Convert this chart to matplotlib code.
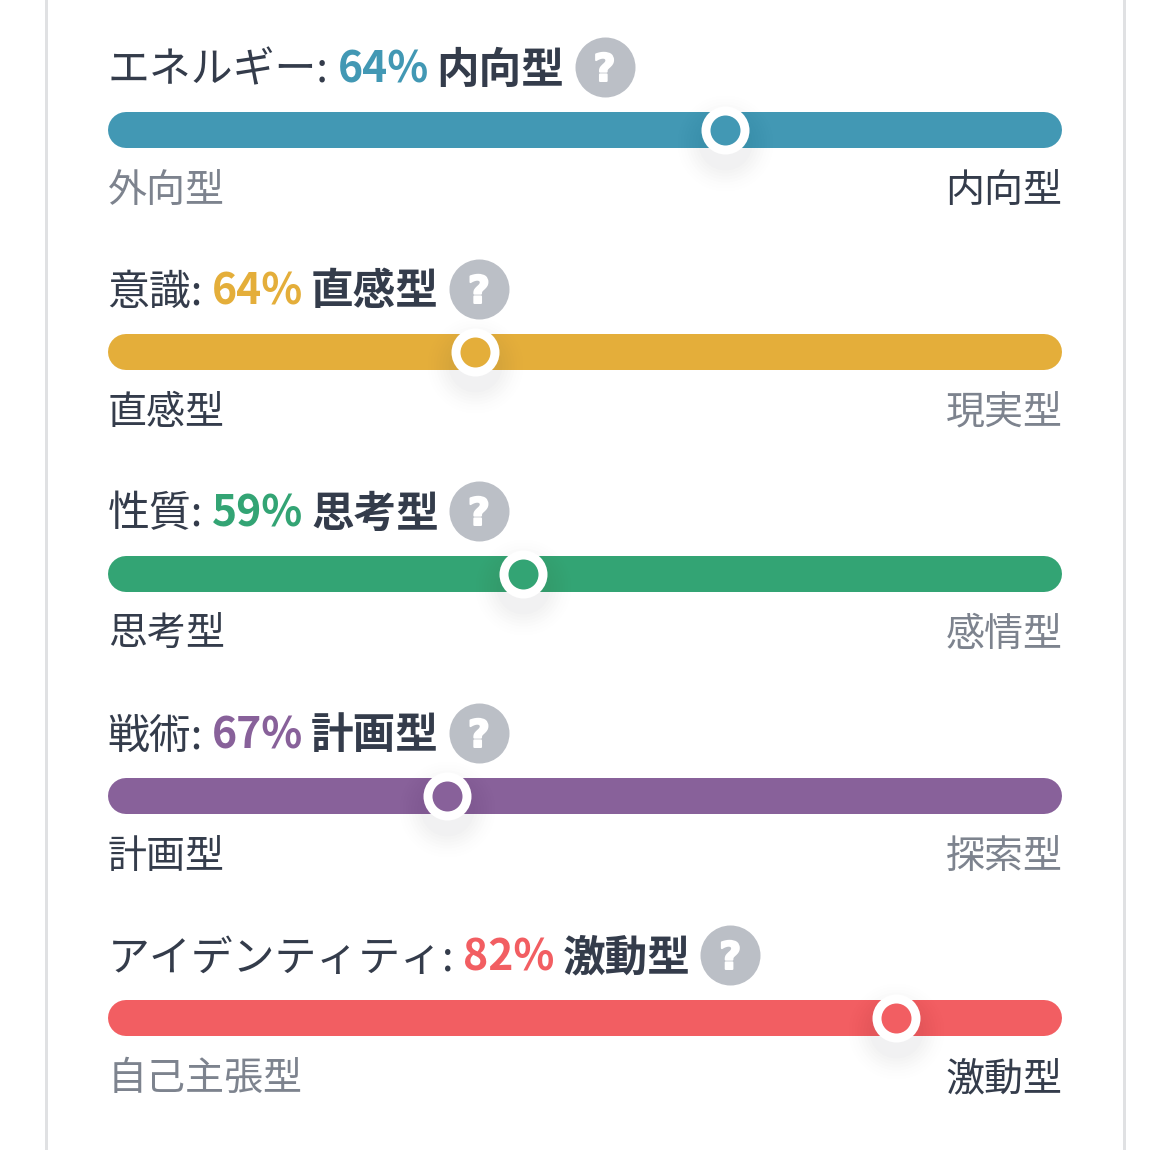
import matplotlib
matplotlib.use("Agg")
import matplotlib.pyplot as plt
import matplotlib.patheffects as pe
from matplotlib.lines import Line2D

plt.rcParams['font.family'] = ['Noto Sans CJK JP', 'DejaVu Sans']

# ---- data ----
titles = ["エネルギー:", "意識:", "性質:", "戦術:", "アイデンティティ:"]
percents = ["64%", "64%", "59%", "67%", "82%"]
traits = ["内向型", "直感型", "思考型", "計画型", "激動型"]
left_labels = ["外向型", "直感型", "思考型", "計画型", "自己主張型"]
right_labels = ["内向型", "現実型", "感情型", "探索型", "激動型"]
handle_positions = [64.7, 38.5, 43.5, 35.5, 82.6]
colors = ["#4298B4", "#E4AE3A", "#33A474", "#88619A", "#F25E62"]
left_active = [False, True, True, True, False]

DARK = "#343C4B"
GREY = "#7D838E"
HELP = "#BBBFC6"
BORDER = "#E0E1E3"

W, H = 1170, 1150
BAR_L, BAR_R = 108, 1062
ROW0, ROW_STEP = 130, 222
PX = (BAR_R - BAR_L) / 100.0

fig = plt.figure(figsize=(W / 100, H / 100), dpi=100, facecolor="white")
ax = fig.add_axes([0, 0, 1, 1])
ax.set_xlim(-BAR_L / PX, (W - BAR_L) / PX)
ax.set_ylim((H - ROW0) / ROW_STEP, -ROW0 / ROW_STEP)
ax.axis("off")

pt = 72 / fig.dpi          # one pixel in points
dx = lambda px: px / PX    # pixels to x units
dy = lambda px: px / ROW_STEP

TITLE_SIZE = 41.9 * pt
BOLD_SIZE = 42.6 * pt
LABEL_SIZE = 39.0 * pt

# card borders
for x_px in (46.5, 1123.5):
    ax.add_line(Line2D([dx(x_px - BAR_L)] * 2, [ax.get_ylim()[1], ax.get_ylim()[0]],
                       color=BORDER, lw=3 * pt, zorder=1))


def put(x, y, s, **kw):
    return ax.text(x, y, s, va="baseline", zorder=6, **kw)


renderer = fig.canvas.get_renderer()


def width_units(t):
    return t.get_window_extent(renderer).width / PX


for i in range(len(titles)):
    col = colors[i]
    # track
    ax.plot([dx(18), 100 - dx(18)], [i, i], color=col, lw=36 * pt,
            solid_capstyle="round", zorder=2)

    # handle shadow
    hx = handle_positions[i]
    for r, a in zip(range(48, 24, -3), [0.003, 0.004, 0.005, 0.006, 0.007, 0.008, 0.009, 0.010]):
        ax.plot([hx], [i + dy(13)], "o", ms=2 * r * pt, mfc="#343C4B", mec="none",
                alpha=a, zorder=3, clip_on=False)
    ax.plot([hx], [i - dy(0.5)], "o", ms=48 * pt, mfc="white", mec="none", zorder=4)
    ax.plot([hx], [i - dy(0.5)], "o", ms=30 * pt, mfc=col, mec="none", zorder=5)

    # title line, laid out piece by piece
    base = i - dy(47.5)
    x = dx(-0.5)
    t = put(x, base, titles[i], fontsize=TITLE_SIZE, color=DARK)
    x += width_units(t) + dx(9)
    t = put(x, base, percents[i], fontsize=BOLD_SIZE, color=col, fontweight="bold")
    x += width_units(t) + dx(8)
    t = put(x, base, traits[i], fontsize=BOLD_SIZE, color=DARK, fontweight="bold")
    x += width_units(t) + dx(40)
    # help icon
    ax.plot([x], [i - dy(63)], "o", ms=60 * pt, mfc=HELP, mec="none", zorder=5)
    q = ax.text(x, i - dy(63), "?", fontsize=38 * pt, color="white", fontweight="bold",
                family="DejaVu Sans", ha="center", va="center_baseline", zorder=6)
    q.set_path_effects([pe.withStroke(linewidth=2 * pt, foreground="white")])

    # end labels
    lbase = i + dy(72)
    put(dx(0), lbase, left_labels[i], fontsize=LABEL_SIZE,
        color=DARK if left_active[i] else GREY)
    put(100 + dx(0.5), lbase, right_labels[i], fontsize=LABEL_SIZE, ha="right",
        color=GREY if left_active[i] else DARK)

fig.savefig("out.png", dpi=100, facecolor="white")
